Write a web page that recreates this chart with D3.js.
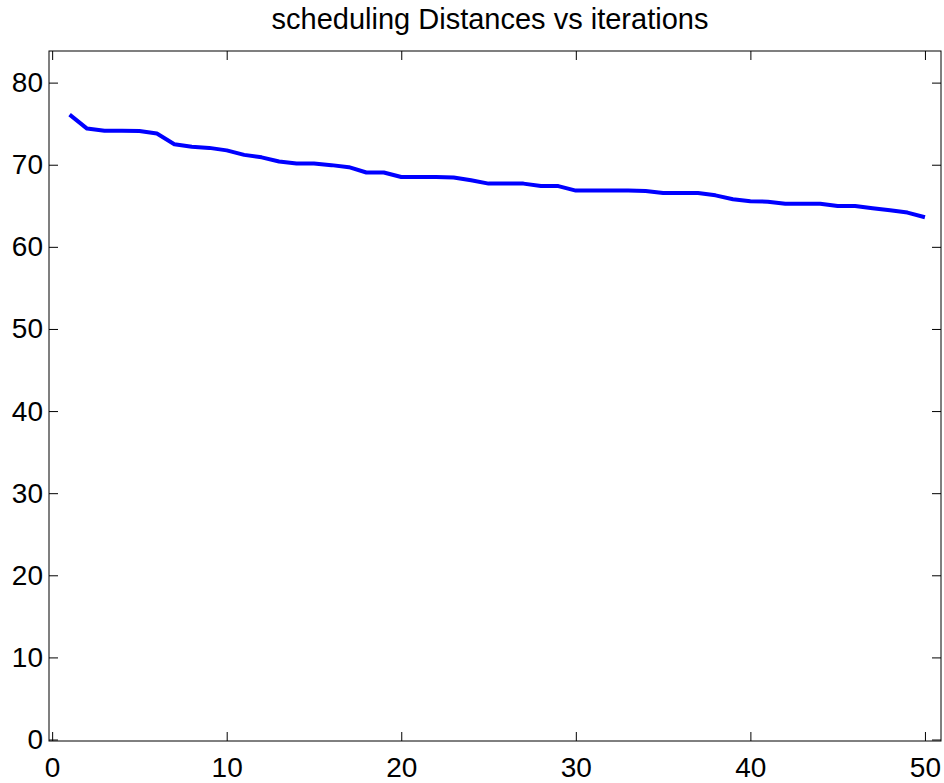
<!DOCTYPE html>
<meta charset="utf-8">
<style>
    body { margin: 0; background: #fff; }
    text { font-family: "Liberation Sans", Arial, sans-serif; }
    .axis path { display: none; }
    .axis line { stroke: #000; stroke-width: 1px; }
    .axis text { font-size: 28px; fill: #000; }
</style>
<svg id="chart" width="944" height="783"></svg>
<script src="https://d3js.org/d3.v7.min.js"></script>
<script>

    // values
    var iterations = d3.range(1, 51);
    var distances = [
        76.1, 74.4, 74.15, 74.15, 74.1, 73.8, 72.5, 72.2, 72.05, 71.75,
        71.2, 70.9, 70.4, 70.15, 70.15, 69.95, 69.7, 69.05, 69.05, 68.5,
        68.5, 68.5, 68.45, 68.1, 67.7, 67.7, 67.7, 67.4, 67.4, 66.85,
        66.85, 66.85, 66.85, 66.8, 66.55, 66.55, 66.55, 66.27, 65.8, 65.55,
        65.5, 65.26, 65.26, 65.25, 64.97, 64.97, 64.7, 64.45, 64.17, 63.6
    ];
    var xTicks = [0, 10, 20, 30, 40, 50];
    var yTicks = [0, 10, 20, 30, 40, 50, 60, 70, 80];
    var title = "scheduling Distances vs iterations";

    var svg = d3.select("#chart");
    var mLeft = 49, mRight = 941, mTop = 51, mBottom = 741;

    var x = d3.scaleLinear().domain([-0.18, 50.92]).range([mLeft, mRight]);
    var y = d3.scaleLinear().domain([-0.18, 83.85]).range([mBottom, mTop]);

    svg.append("g")
        .attr("class", "axis")
        .attr("transform", "translate(" + mLeft + ",0)")
        .call(d3.axisLeft(y).tickValues(yTicks).tickSize(-9).tickPadding(6));

    svg.append("g")
        .attr("class", "axis")
        .attr("transform", "translate(" + mRight + ",0)")
        .call(d3.axisRight(y).tickValues(yTicks).tickSize(-9).tickFormat(""));

    svg.append("g")
        .attr("class", "axis")
        .attr("transform", "translate(0," + mBottom + ")")
        .call(d3.axisBottom(x).tickValues(xTicks).tickSize(-9).tickPadding(16));

    svg.append("g")
        .attr("class", "axis")
        .attr("transform", "translate(0," + mTop + ")")
        .call(d3.axisTop(x).tickValues(xTicks).tickSize(-9).tickFormat(""));

    // axes box
    svg.append("rect")
        .attr("x", mLeft)
        .attr("y", mTop)
        .attr("width", mRight - mLeft)
        .attr("height", mBottom - mTop)
        .attr("fill", "none")
        .attr("stroke", "#000")
        .attr("stroke-width", 1);

    var line = d3.line()
        .x(function(d, i) { return x(iterations[i]); })
        .y(function(d) { return y(d); });

    svg.append("path")
        .datum(distances)
        .attr("d", line)
        .attr("fill", "none")
        .attr("stroke", "#0000ff")
        .attr("stroke-width", 4)
        .attr("stroke-linejoin", "round");

    svg.append("text")
        .attr("x", 490)
        .attr("y", 29)
        .attr("text-anchor", "middle")
        .style("font-size", "29px")
        .text(title);

</script>
